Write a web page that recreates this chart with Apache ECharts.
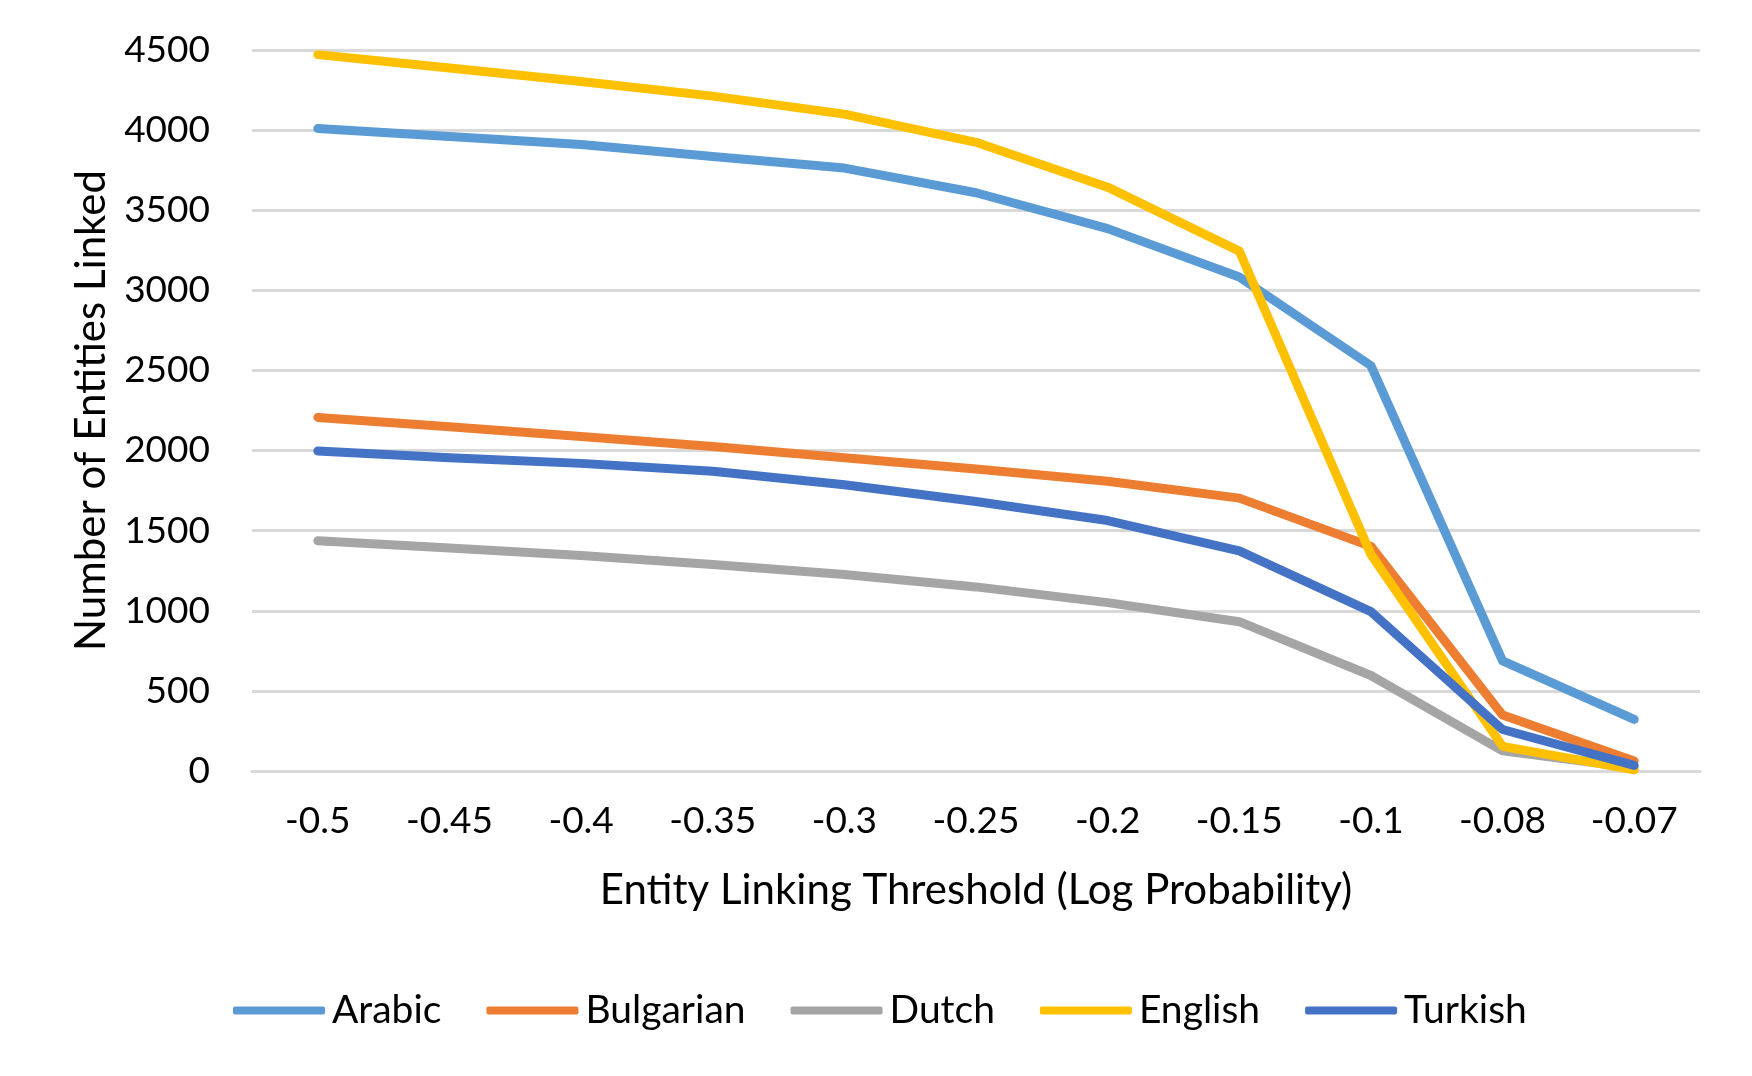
<!DOCTYPE html>
<html>
<head>
<meta charset="utf-8">
<script src="https://cdn.jsdelivr.net/npm/echarts@6/dist/echarts.min.js"></script>
<style>html,body{margin:0;padding:0;background:#fff}#c{width:1752px;height:1076px}</style>
</head>
<body>
<div id="c"></div>
<script>
const categories = ['-0.5','-0.45','-0.4','-0.35','-0.3','-0.25','-0.2','-0.15','-0.1','-0.08','-0.07'];
const arabic    = [4010, 3960, 3910, 3835, 3763, 3609, 3385, 3083, 2530, 687, 322];
const bulgarian = [2207, 2148, 2088, 2025, 1955, 1885, 1808, 1703, 1402, 350, 63];
const dutch     = [1437, 1392, 1345, 1289, 1226, 1149, 1051, 932, 596, 126, 20];
const english   = [4471, 4388, 4303, 4212, 4100, 3924, 3644, 3245, 1352, 154, 7];
const turkish   = [1997, 1955, 1920, 1871, 1787, 1682, 1563, 1374, 995, 259, 35];
const seriesNames = ['Arabic','Bulgarian','Dutch','English','Turkish'];
const seriesData = [arabic, bulgarian, dutch, english, turkish];
const colors = ['#5B9BD5','#ED7D31','#A5A5A5','#FFC000','#4472C4'];
const FONT = 'Lato';

const chart = echarts.init(document.getElementById('c'));
chart.setOption({
  animation: false,
  textStyle: {fontFamily: FONT},
  grid: {left: 252, right: 52, top: 50, bottom: 305, containLabel: false},
  legend: {
    data: seriesNames,
    left: 228, top: 986,
    icon: 'roundRect',
    itemWidth: 92, itemHeight: 8, itemGap: 45,
    textStyle: {fontFamily: FONT, fontSize: 39, color: '#000', padding: [0,0,0,2]}
  },
  xAxis: {
    type: 'category',
    data: categories,
    boundaryGap: true,
    axisLine: {show: true, lineStyle: {color: '#D9D9D9', width: 3}},
    axisTick: {show: false},
    axisLabel: {fontFamily: FONT, fontSize: 37, color: '#000', margin: 32},
    name: 'Entity Linking Threshold (Log Probability)',
    nameLocation: 'middle', nameGap: 98,
    nameTextStyle: {fontFamily: FONT, fontSize: 42, color: '#000'}
  },
  yAxis: {
    type: 'value',
    min: 0, max: 4500, interval: 500,
    axisLine: {show: false},
    axisTick: {show: false},
    splitLine: {lineStyle: {color: '#D9D9D9', width: 3}},
    axisLabel: {fontFamily: FONT, fontSize: 37, color: '#000', margin: 42, formatter: v => String(v)},
    name: 'Number of Entities Linked',
    nameLocation: 'middle', nameGap: 140,
    nameTextStyle: {fontFamily: FONT, fontSize: 42, color: '#000'}
  },
  series: seriesNames.map((n, i) => ({
    name: n, type: 'line', data: seriesData[i],
    symbol: 'none', smooth: false,
    itemStyle: {color: colors[i]},
    lineStyle: {color: colors[i], width: 9, cap: 'round', join: 'round'}
  }))
});
</script>
</body>
</html>
